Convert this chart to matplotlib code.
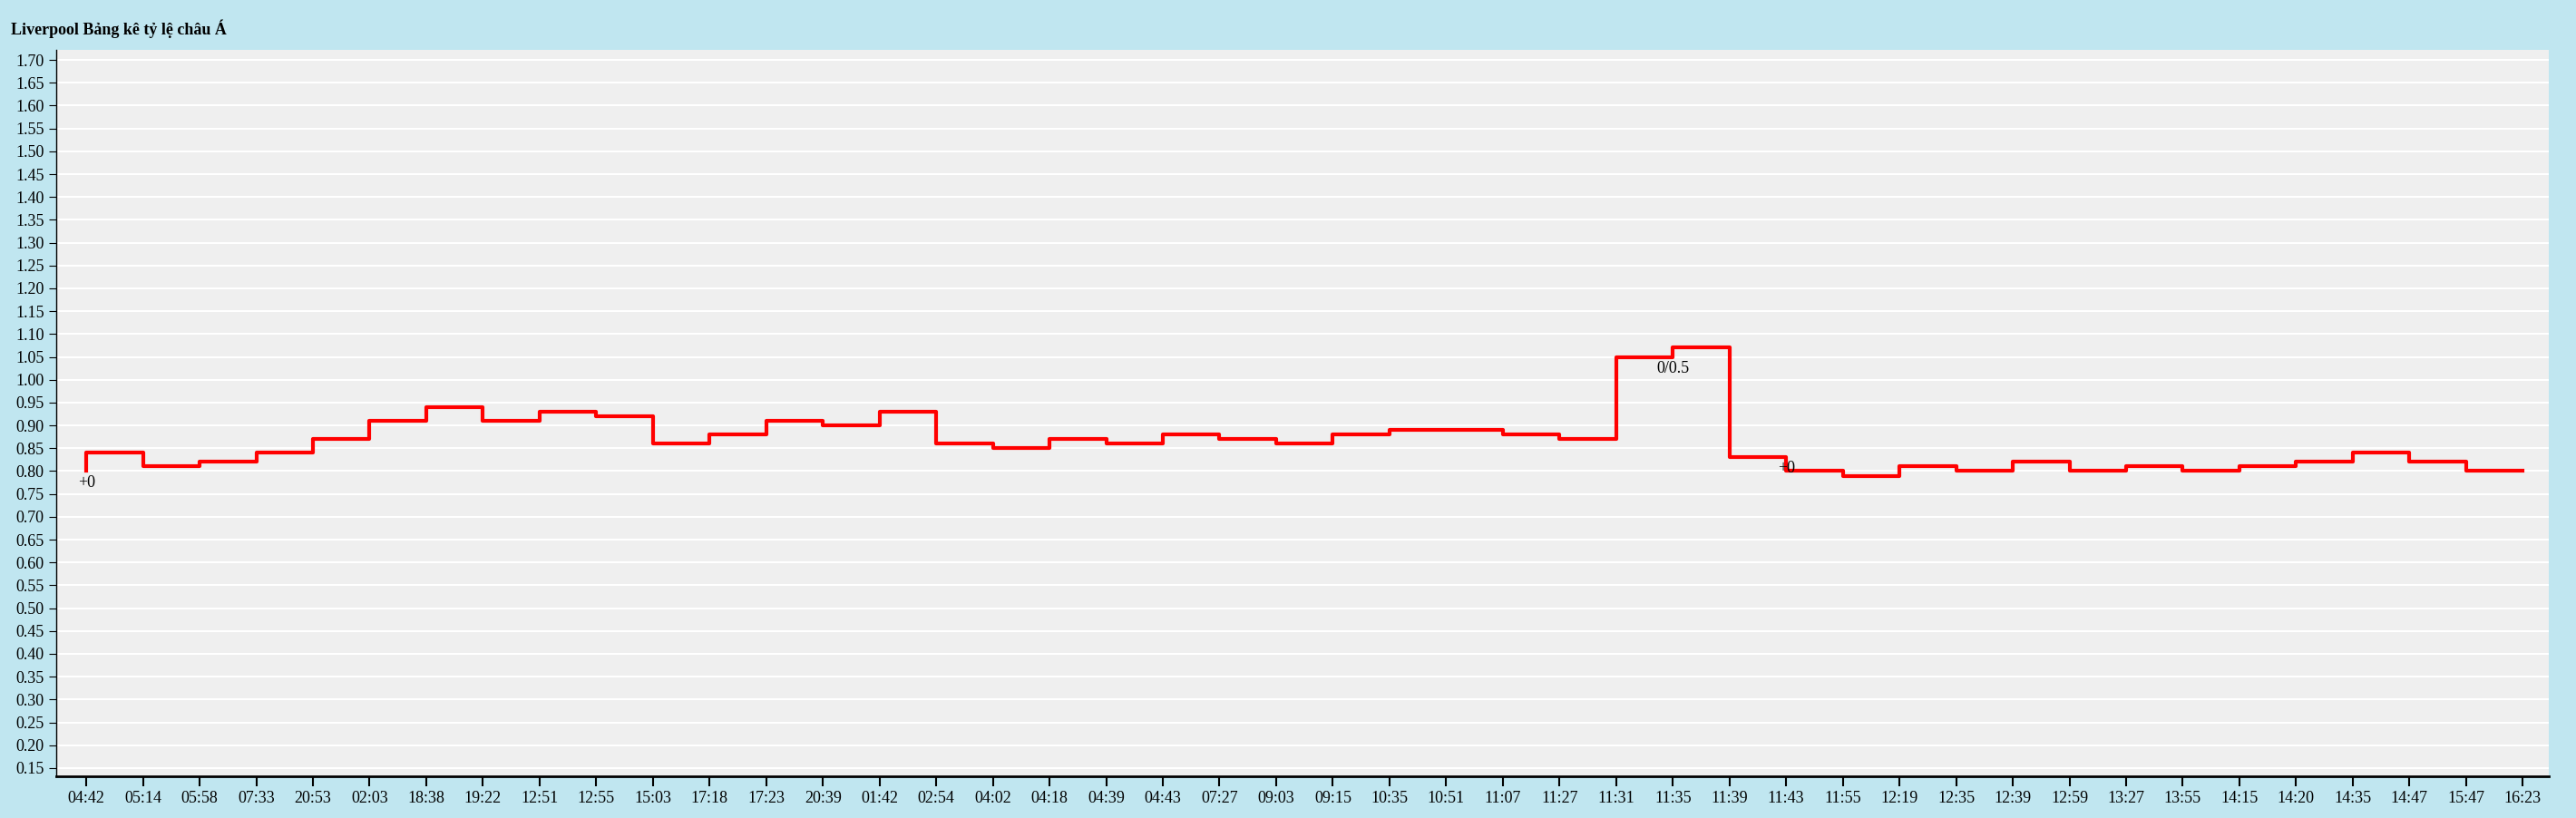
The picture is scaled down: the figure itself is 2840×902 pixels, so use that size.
import matplotlib
matplotlib.use("Agg")
import matplotlib.pyplot as plt
import numpy as np

labels = ["04:42","05:14","05:58","07:33","20:53","02:03","18:38","19:22","12:51","12:55","15:03",
          "17:18","17:23","20:39","01:42","02:54","04:02","04:18","04:39","04:43","07:27","09:03",
          "09:15","10:35","10:51","11:07","11:27","11:31","11:35","11:39","11:43","11:55","12:19",
          "12:35","12:39","12:59","13:27","13:55","14:15","14:20","14:35","14:47","15:47","16:23"]
values = [0.80,0.84,0.81,0.82,0.84,0.87,0.91,0.94,0.91,0.93,0.92,
          0.86,0.88,0.91,0.90,0.93,0.86,0.85,0.87,0.86,0.88,0.87,
          0.86,0.88,0.89,0.89,0.88,0.87,1.05,1.07,0.83,0.80,0.79,
          0.81,0.80,0.82,0.80,0.81,0.80,0.81,0.82,0.84,0.82,0.80]
notes = {0: "+0", 28: "0/0.5", 30: "+0"}
yticks = [round(0.15 + 0.05*i, 2) for i in range(32)]

plt.rcParams['font.family'] = ['Liberation Serif', 'DejaVu Serif']
fig = plt.figure(figsize=(28.4, 9.02), dpi=100)
fig.patch.set_facecolor("#c0e6f0")
ax = fig.add_axes([62/2840, 1-856/902, (2810-62)/2840, (856-55)/902])
ax.set_facecolor("#efefef")
x = np.arange(len(values))
ax.step(x, values, where="pre", color="#ff0000", lw=3)
for i, t in notes.items():
    ax.text(x[i], values[i] - 0.008, t, ha="center", va="top", fontsize=13)
ax.set_xlim(-0.53, len(values) - 1 + 0.46)
ax.set_ylim(0.132, 1.722)
ax.set_yticks(yticks)
ax.set_yticklabels([f"{v:.2f}" for v in yticks], fontsize=13)
ax.set_xticks(x)
ax.set_xticklabels(labels, fontsize=13)
ax.grid(axis="y", color="white", lw=1.5)
ax.set_axisbelow(True)
for s in ["top", "right"]:
    ax.spines[s].set_visible(False)
ax.spines["bottom"].set_linewidth(2)
ax.spines["left"].set_linewidth(1)
ax.tick_params(axis="x", length=8, width=1.5)
ax.tick_params(axis="y", length=6)
fig.text(12/2840, 1-32/902, "Liverpool Bảng kê tỷ lệ châu Á", fontsize=13, fontweight="bold", va="center")
fig.savefig("out.png", dpi=100, facecolor=fig.get_facecolor())
